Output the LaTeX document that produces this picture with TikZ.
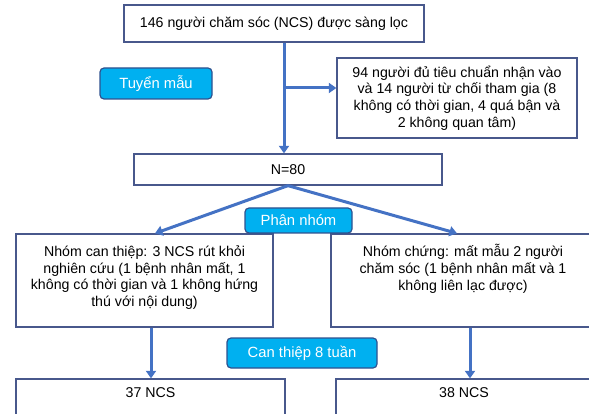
\documentclass[tikz,border=0pt]{standalone}
\usepackage{fontspec}
\setmainfont{Liberation Sans}
\usetikzlibrary{arrows.meta,positioning}
\definecolor{boxline}{RGB}{72,88,140}
\definecolor{arrowblue}{RGB}{68,114,196}
\definecolor{tagfill}{RGB}{0,176,240}
\definecolor{tagline}{RGB}{47,82,143}

\begin{document}
\begin{tikzpicture}[x=1pt, y=-1pt,
	font=\fontsize{14.2}{16.8}\selectfont,
	box/.style={rectangle, draw=boxline, line width=1.3pt, inner sep=0pt, align=center},
	tag/.style={rectangle, rounded corners=4pt, draw=tagline, fill=tagfill, line width=1.2pt, text=white, inner sep=0pt, font=\fontsize{14.8}{17}\selectfont},
	txt/.style={align=center, inner sep=0pt},
	flow/.style={draw=arrowblue, line width=3pt, -{Triangle[width=10pt,length=7.5pt]}}]
	\useasboundingbox (0,0) rectangle (589,414);
	\clip (0,0) rectangle (589,414);

	\node at (274,23.5) [box, minimum width=300pt, minimum height=37pt] (scr) {146 người chăm sóc (NCS) được sàng lọc};
	\node at (457,98) [box, minimum width=240pt, minimum height=80pt] (excl) {94 người đủ tiêu chuẩn nhận vào\\và 14 người từ chối tham gia (8\\không có thời gian, 4 quá bận và\\2 không quan tâm)};
	\node at (156,83.5) [tag, minimum width=112pt, minimum height=31pt] (tuyen) {Tuyển mẫu};
	\node at (288,169.5) [box, minimum width=308pt, minimum height=31pt] (nall) {N=80};

	\node at (144.5,280.5) [box, minimum width=257pt, minimum height=93pt] (intv) {};
	\node at (463,280.5) [box, minimum width=264pt, minimum height=93pt] (ctrl) {};
	\node at (298.5,220.5) [tag, minimum width=107pt, minimum height=25pt] (phan) {Phân nhóm};
	\node [txt, below=12pt of intv.north] (intvtxt) {Nhóm can thiệp: 3 NCS rút khỏi\\nghiên cứu (1 bệnh nhân mất, 1\\không có thời gian và 1 không hứng\\thú với nội dung)};
	\node [txt, below=11pt of ctrl.north] (ctrltxt) {Nhóm chứng: mất mẫu 2 người\\chăm sóc (1 bệnh nhân mất và 1\\không liên lạc được)};

	\node at (302,353) [tag, minimum width=150pt, minimum height=30pt] (canth) {Can thiệp 8 tuần};
	\node at (150.5,402) [box, minimum width=269pt, minimum height=46pt] (out1) {};
	\node at (464,402) [box, minimum width=256pt, minimum height=46pt] (out2) {};
	\node [txt, below=9pt of out1.north] (out1txt) {37 NCS};
	\node [txt, below=9pt of out2.north] (out2txt) {38 NCS};

	% connectors
	\coordinate (split) at (284,88);
	\coordinate (ltip) at (155,0);
	\coordinate (rtip) at (457,0);
	\coordinate (ldown) at (151,0);
	\coordinate (rdown) at (470,0);

	\draw [flow] (scr.south-|split) -- (nall.north-|split);
	\draw [flow] (split) -- (split-|excl.west);
	\draw [flow] (nall.south) -- (intv.north-|ltip);
	\draw [flow] (nall.south) -- (ctrl.north-|rtip);
	\draw [flow] (intv.south-|ldown) -- (out1.north-|ldown);
	\draw [flow] (ctrl.south-|rdown) -- (out2.north-|rdown);
\end{tikzpicture}
\end{document}
